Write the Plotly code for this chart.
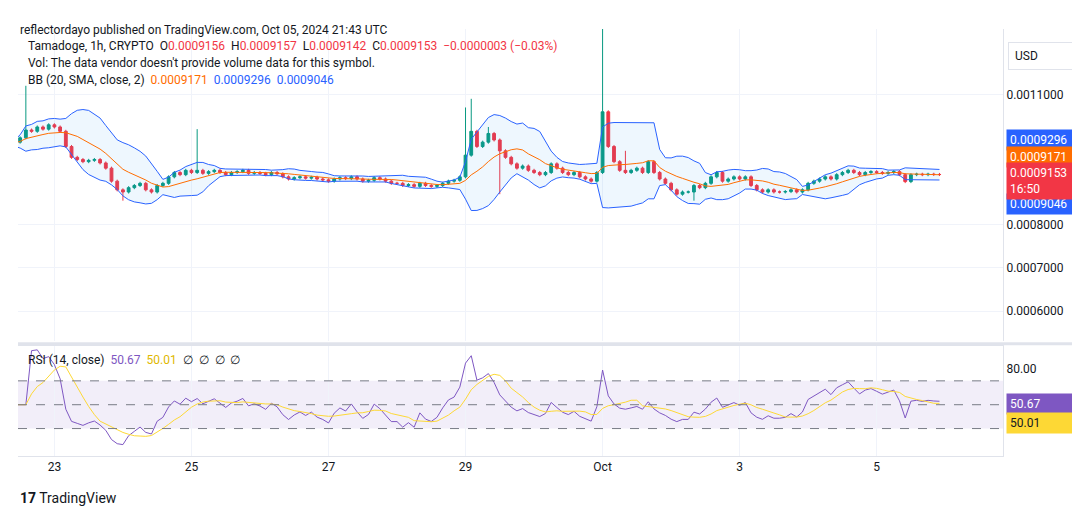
import numpy as np
import pandas as pd
import plotly.graph_objects as go

# 2-hour closes, in units of 1e-7
closes = [
    9850, 9900, 10000, 10180, 10150, 10250, 10200, 10300,
    10250, 10150, 9800, 9550, 9500, 9450, 9480, 9500, 9420, 9300, 9000, 8800,
    8750, 8850, 8900, 8950, 8800, 8750, 8900, 8950, 9100, 9200, 9150, 9250,
    9200, 9250, 9180, 9220, 9250, 9200, 9150, 9200, 9220, 9250, 9180, 9200,
    9180, 9150, 9200, 9170, 9100, 9050, 9080, 9100, 9070, 9090, 9050, 9030,
    9000, 9050, 9080, 9060, 9100, 9050, 9000, 9020, 9080, 9050, 9000, 8950,
    8950, 8900, 8920, 8880, 8950, 8900, 8880, 8900, 8950, 9000, 9020, 9100,
    9600, 10150, 9800, 9900, 10100, 9950, 9700, 9550, 9400, 9300, 9350, 9250,
    9200, 9150, 9200, 9400, 9300, 9200, 9150, 9200, 9100, 9050, 9000, 9200,
    10600, 9800, 9450, 9250, 9200, 9250, 9300, 9200, 9450, 9200, 9050, 8950,
    8800, 8700, 8750, 8750, 8900, 8850, 8950, 9100, 9200, 9000, 9050, 9100,
    9050, 9100, 8900, 8800, 8750, 8800, 8750, 8750, 8760, 8800, 8750, 8800,
    8950, 9000, 9050, 9100, 9050, 9150, 9200, 9250, 9200, 9150, 9200, 9220,
    9200, 9180, 9200, 9220, 9150, 8990, 9150, 9160, 9150, 9160, 9155, 9153,
]
start_time = "2024-09-22 08:00"
first_open = 9820
# notable wick highs / lows (index -> value)
spike_highs = {3: 11200, 33: 10200, 80: 10700, 81: 10900, 84: 10250, 104: 12600, 108: 9700}
spike_lows = {20: 8550, 86: 8700, 120: 8550}

times = pd.date_range(start_time, periods=len(closes), freq="2h")
c = np.array(closes) / 1e7
o = np.concatenate([[first_open / 1e7], c[:-1]])
h = np.maximum(o, c) + 0.0000035
l = np.minimum(o, c) - 0.0000035
for i, v in spike_highs.items():
    h[i] = v / 1e7
for i, v in spike_lows.items():
    l[i] = v / 1e7

s = pd.Series(c)
basis = s.rolling(10, min_periods=1).mean()
sd = s.rolling(10, min_periods=1).std().fillna(0)
upper, lower = basis + 2 * sd, basis - 2 * sd

d = s.diff()
gain = d.clip(lower=0).ewm(alpha=1 / 10, adjust=False).mean()
loss = (-d.clip(upper=0)).ewm(alpha=1 / 10, adjust=False).mean()
rsi = 100 - 100 / (1 + gain / loss.replace(0, np.nan))
rsi = rsi.fillna(50)
rsi_ma = rsi.rolling(7, min_periods=1).mean()

fig = go.Figure()
fig.add_trace(go.Scatter(x=times, y=upper, line=dict(color="#2962ff", width=1), yaxis="y", hoverinfo="skip"))
fig.add_trace(go.Scatter(x=times, y=lower, line=dict(color="#2962ff", width=1), fill="tonexty",
                         fillcolor="rgba(33,150,243,0.08)", yaxis="y", hoverinfo="skip"))
fig.add_trace(go.Scatter(x=times, y=basis, line=dict(color="#ff6d00", width=1), yaxis="y"))
fig.add_trace(go.Candlestick(x=times, open=o, high=h, low=l, close=c, yaxis="y",
                             increasing=dict(line=dict(color="#089981", width=1), fillcolor="#089981"),
                             decreasing=dict(line=dict(color="#f23645", width=1), fillcolor="#f23645")))
fig.add_trace(go.Scatter(x=times, y=rsi, line=dict(color="#7e57c2", width=1), yaxis="y2"))
fig.add_trace(go.Scatter(x=times, y=rsi_ma, line=dict(color="#fdd835", width=1), yaxis="y2"))

x0, x1 = pd.Timestamp("2024-09-22 11:15"), pd.Timestamp("2024-10-06 20:15")
fig.add_shape(type="rect", xref="x", yref="y2", x0=x0, x1=x1, y0=30, y1=70,
              fillcolor="rgba(126,87,194,0.1)", line_width=0, layer="below")
for lv in (30, 50, 70):
    fig.add_shape(type="line", xref="x", yref="y2", x0=x0, x1=x1, y0=lv, y1=lv,
                  line=dict(color="#787b86", width=1, dash="dash"))
fig.add_shape(type="line", xref="paper", yref="paper", x0=0, x1=1.09, y0=0.263, y1=0.263,
              line=dict(color="#e0e3eb", width=3))

tick_dates = ["2024-09-23", "2024-09-25", "2024-09-27", "2024-09-29", "2024-10-01", "2024-10-03", "2024-10-05"]
tick_text = ["23", "25", "27", "29", "Oct", "3", "5"]

fig.update_layout(
    width=1080, height=515, showlegend=False, plot_bgcolor="white", paper_bgcolor="white",
    margin=dict(l=10, r=85, t=21, b=67), font=dict(family="Roboto", size=12, color="#131722"),
    xaxis=dict(range=[x0, x1], tickvals=tick_dates, ticktext=tick_text, showgrid=True, gridcolor="#f0f3fa",
               anchor="y2", rangeslider=dict(visible=False), showline=True, linecolor="#e0e3eb",
               mirror=True, ticks=""),
    yaxis=dict(domain=[0.27, 1], range=[0.000532, 0.001251], side="right", anchor="x",
               tickvals=[0.0006, 0.0007, 0.0008, 0.0011], tickformat=".7f", gridcolor="#f0f3fa",
               showline=True, linecolor="#e0e3eb"),
    yaxis2=dict(domain=[0, 0.257], range=[7, 99], side="right", anchor="x", tickvals=[80], tickformat=".2f",
                showgrid=False, showline=True, linecolor="#e0e3eb"),
)

def price_tag(y, txt, bg, yref="y", fc="white", shift=0):
    fig.add_annotation(x=1.0, xref="paper", y=y, yref=yref, text=txt, showarrow=False, xanchor="left",
                       xshift=3, yshift=shift, bgcolor=bg, font=dict(color=fc, size=12), borderpad=3,
                       width=64, align="left")

price_tag(0.0009296, "0.0009296", "#2962ff", shift=28)
price_tag(0.0009171, "0.0009171", "#ff6d00", shift=17)
price_tag(0.0009046, "0.0009046", "#2962ff", shift=-25)
fig.add_annotation(x=1.0, xref="paper", y=0.0009153, yref="y", text="0.0009153<br>16:50", showarrow=False,
                   xanchor="left", xshift=3, yshift=-6, bgcolor="#f23645", font=dict(color="white", size=12),
                   borderpad=3, width=64, align="left")
price_tag(50.67, "50.67", "#7e57c2", "y2")
price_tag(50.01, "50.01", "#fdd835", "y2", "#131722", shift=-18)

def txt(x, y, t, size=12):
    fig.add_annotation(x=x, y=y, xref="paper", yref="paper", text=t, showarrow=False, xanchor="left",
                       yanchor="middle", font=dict(size=size, color="#131722"), align="left")

fig.add_annotation(x=0, y=1.0, xref="paper", yref="paper", yshift=8,
                   text="reflectordayo published on TradingView.com, Oct 05, 2024 21:43 UTC",
                   showarrow=False, xanchor="left", font=dict(size=12, color="#131722"))
txt(0.008, 0.96, "Tamadoge, 1h, CRYPTO  O<span style='color:#f23645'>0.0009156</span>  H<span style='color:#f23645'>0.0009157</span>  "
    "L<span style='color:#f23645'>0.0009142</span>  C<span style='color:#f23645'>0.0009153  −0.0000003 (−0.03%)</span>")
txt(0.008, 0.92, "Vol: The data vendor doesn't provide volume data for this symbol.")
txt(0.008, 0.88, "BB (20, SMA, close, 2)  <span style='color:#ff6d00'>0.0009171</span>  "
    "<span style='color:#2962ff'>0.0009296</span>  <span style='color:#2962ff'>0.0009046</span>")
txt(0.008, 0.225, "RSI (14, close)  <span style='color:#7e57c2'>50.67</span>  <span style='color:#e0b800'>50.01</span>  ∅  ∅  ∅  ∅")
fig.add_annotation(x=1.005, y=0.97, xref="paper", yref="paper", text="USD", showarrow=False, xanchor="left",
                   font=dict(size=12), bordercolor="#e0e3eb", borderpad=6, width=52, align="left")
fig.add_annotation(x=0, y=-0.075, xref="paper", yref="paper", yanchor="top", text="<b>17</b> TradingView",
                   showarrow=False, xanchor="left", font=dict(size=14, color="#131722"))

fig.write_html("out.html")
